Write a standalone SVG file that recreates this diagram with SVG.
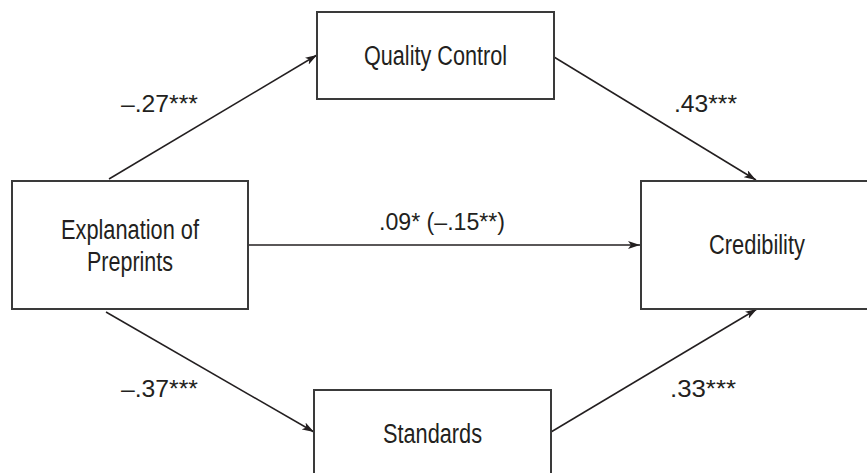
<svg xmlns="http://www.w3.org/2000/svg" width="867" height="473" viewBox="0 0 867 473">
  <style>
    .box { fill: #ffffff; stroke: #3a3a3a; stroke-width: 2; }
    .node { font-family: "Liberation Sans", Arial, sans-serif; font-size: 27px; fill: #231f20; text-anchor: middle; }
    .lbl { font-family: "Liberation Sans", Arial, sans-serif; font-size: 23px; fill: #231f20; }
    .edge { stroke: #231f20; stroke-width: 1.5; fill: none; marker-end: url(#arrow); }
  </style>
  <defs>
    <marker id="arrow" viewBox="0 0 12 8" refX="12" refY="4" markerWidth="12" markerHeight="8" markerUnits="userSpaceOnUse" orient="auto">
      <path d="M0,0 L12,4 L0,8 L3,4 Z" fill="#231f20"/>
    </marker>
  </defs>
  <rect width="867" height="473" fill="#ffffff"/>

  <g id="connectors">
    <line class="edge" x1="109" y1="179" x2="317" y2="55"/>
    <line class="edge" x1="554" y1="57" x2="756" y2="180"/>
    <line class="edge" x1="248" y1="245" x2="640" y2="245"/>
    <line class="edge" x1="106" y1="312" x2="314" y2="432"/>
    <line class="edge" x1="551" y1="432" x2="757" y2="309"/>
    <text class="lbl" x="121" y="112" textLength="77" lengthAdjust="spacingAndGlyphs">–.27***</text>
    <text class="lbl" x="674" y="112" textLength="63" lengthAdjust="spacingAndGlyphs">.43***</text>
    <text class="lbl" x="379" y="230" textLength="126" lengthAdjust="spacingAndGlyphs">.09* (–.15**)</text>
    <text class="lbl" x="121" y="397" textLength="77" lengthAdjust="spacingAndGlyphs">–.37***</text>
    <text class="lbl" x="670" y="397" textLength="66" lengthAdjust="spacingAndGlyphs">.33***</text>
  </g>

  <g id="explanation">
    <rect class="box" x="12" y="181" width="236" height="128"/>
    <text class="node" x="130" y="239" textLength="138" lengthAdjust="spacingAndGlyphs">Explanation of</text>
    <text class="node" x="130" y="271" textLength="86" lengthAdjust="spacingAndGlyphs">Preprints</text>
  </g>

  <g id="quality-control">
    <rect class="box" x="317" y="12" width="237" height="87"/>
    <text class="node" x="435.5" y="65" textLength="143" lengthAdjust="spacingAndGlyphs">Quality Control</text>
  </g>

  <g id="credibility">
    <rect class="box" x="641" y="181" width="240" height="128"/>
    <text class="node" x="757" y="254" textLength="96" lengthAdjust="spacingAndGlyphs">Credibility</text>
  </g>

  <g id="standards">
    <rect class="box" x="314" y="390" width="237" height="100"/>
    <text class="node" x="432.5" y="443" textLength="99" lengthAdjust="spacingAndGlyphs">Standards</text>
  </g>
</svg>
